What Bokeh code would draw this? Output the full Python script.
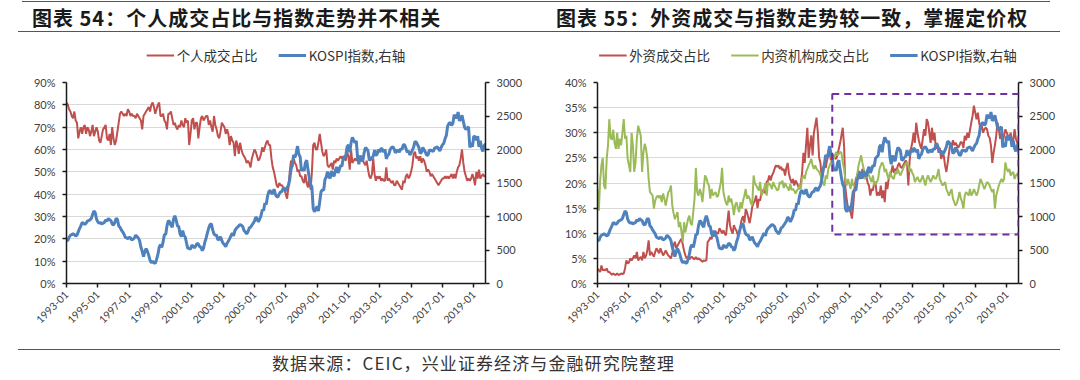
import pandas as pd
from bokeh.plotting import figure
from bokeh.models import Range1d, LinearAxis, FixedTicker, Legend, LegendItem, BoxAnnotation, Div
from bokeh.layouts import column, row
from bokeh.embed import file_html
from bokeh.resources import INLINE

# ---------------- data (monthly, 1993-01 .. 2019-10) ----------------
kospi = [
    650, 640, 690, 720, 730, 740, 730, 710, 720, 770, 820, 860,
    910, 900, 880, 900, 930, 940, 950, 970, 1030, 1080, 1060, 960,
    920, 900, 910, 890, 900, 910, 950, 930, 970, 950, 940, 890,
    870, 910, 970, 960, 860, 840, 800, 770, 740, 690, 680, 670,
    690, 680, 650, 660, 680, 720, 700, 680, 640, 540, 480, 400,
    480, 520, 480, 420, 350, 310, 330, 310, 300, 360, 430, 540,
    580, 540, 620, 730, 730, 860, 940, 920, 870, 840, 960, 1010,
    950, 860, 850, 740, 700, 790, 720, 690, 600, 520, 530, 510,
    570, 560, 530, 560, 600, 590, 550, 540, 490, 530, 620, 680,
    760, 830, 880, 890, 800, 740, 720, 720, 650, 660, 700, 640,
    600, 580, 550, 600, 630, 670, 710, 750, 710, 790, 820, 840,
    860, 880, 870, 850, 790, 770, 740, 770, 830, 840, 870, 900,
    930, 990, 970, 920, 960, 1010, 1100, 1090, 1200, 1180, 1300, 1370,
    1390, 1350, 1340, 1410, 1330, 1300, 1290, 1340, 1370, 1370, 1420, 1420,
    1380, 1430, 1460, 1550, 1700, 1780, 1920, 1880, 1950, 2050, 1930, 1890,
    1680, 1720, 1680, 1800, 1840, 1700, 1580, 1480, 1440, 1120, 1070, 1110,
    1150, 1080, 1220, 1370, 1400, 1390, 1550, 1590, 1670, 1590, 1570, 1680,
    1620, 1600, 1690, 1740, 1650, 1700, 1760, 1750, 1870, 1890, 1910, 2040,
    2070, 1960, 2100, 2180, 2140, 2100, 2130, 1880, 1780, 1910, 1850, 1830,
    1950, 2030, 2010, 1980, 1840, 1850, 1880, 1900, 1990, 1910, 1930, 2000,
    1960, 2020, 2000, 1960, 2000, 1860, 1910, 1930, 2000, 2030, 2040, 2010,
    1950, 1980, 1990, 1960, 2010, 2000, 2070, 2070, 2020, 1960, 1980, 1920,
    1950, 1990, 2040, 2120, 2110, 2070, 2030, 1940, 1960, 2030, 1990, 1960,
    1910, 1920, 1990, 1990, 1980, 1970, 2020, 2030, 2040, 2010, 1980, 2030,
    2070, 2090, 2160, 2210, 2350, 2390, 2400, 2360, 2390, 2520, 2480, 2470,
    2560, 2430, 2450, 2510, 2420, 2330, 2300, 2320, 2340, 2030, 2100, 2040,
    2200, 2190, 2140, 2200, 2040, 2130, 2020, 1970, 2060, 2080,
]

individual_share = [
    81, 80, 78, 77, 75, 74, 77, 73, 72, 65, 68, 70,
    67, 70, 71, 67, 70, 69, 66, 68, 71, 66, 68, 70,
    68, 64, 63, 66, 69, 70, 71, 65, 64, 67, 62, 70,
    65, 62, 64, 68, 72, 76, 77, 76, 75, 76, 75, 78,
    77, 75, 76, 75, 75, 74, 76, 75, 74, 73, 69, 75,
    76, 77, 78, 79, 77, 80, 81, 79, 76, 78, 80, 81,
    75, 75, 76, 73, 72, 69, 76, 76, 77, 74, 71, 72,
    70, 69, 71, 70, 73, 71, 70, 74, 72, 73, 62, 67,
    73, 74, 69, 72, 72, 65, 70, 74, 75, 73, 74, 75,
    75, 71, 73, 70, 68, 75, 71, 69, 66, 65, 68, 72,
    71, 70, 67, 69, 67, 62, 66, 64, 63, 57, 64, 62,
    58, 63, 60, 58, 57, 56, 54, 55, 54, 52, 56, 58,
    60, 59, 57, 55, 56, 58, 61, 59, 61, 63, 64, 62,
    62, 56, 52, 50, 47, 44, 43, 45, 44, 44, 43, 42,
    40, 38, 43, 50, 55, 52, 56, 54, 53, 50, 51, 48,
    48, 46, 45, 49, 45, 43, 47, 42, 50, 62, 63, 60,
    60, 63, 67, 63, 59, 57, 58, 60, 53, 52, 53, 54,
    51, 55, 54, 56, 55, 56, 57, 56, 57, 56, 55, 59,
    57, 51, 60, 54, 55, 56, 55, 57, 54, 56, 55, 55,
    54, 53, 55, 51, 48, 47, 49, 56, 49, 46, 48, 47,
    48, 46, 47, 46, 46, 52, 46, 47, 46, 45, 46, 44,
    44, 46, 45, 44, 43, 42, 46, 45, 48, 49, 47, 48,
    50, 53, 58, 59, 56, 57, 55, 57, 54, 56, 55, 53,
    50, 51, 50, 48, 49, 48, 47, 46, 45, 44, 45, 46,
    47, 47, 48, 47, 48, 47, 48, 49, 47, 49, 47, 50,
    52, 53, 56, 60, 54, 50, 48, 46, 47, 46, 47, 49,
    47, 44, 50, 47, 51, 47, 48, 49, 48, 48,
]

foreign_share = [
    3.0, 2.6, 2.3, 3.6, 2.6, 2.8, 2.6, 3.0, 2.3, 2.3, 2.0, 1.7,
    2.0, 1.8, 1.7, 2.0, 1.7, 1.8, 2.0, 1.9, 2.0, 3.0, 4.6, 4.0,
    4.2, 5.0, 4.6, 5.0, 5.6, 5.0, 6.3, 4.6, 5.0, 5.3, 4.6, 6.3,
    5.0, 5.5, 6.6, 8.6, 5.6, 6.3, 5.8, 5.3, 6.3, 7.0, 6.5, 6.0,
    7.0, 6.3, 5.6, 6.0, 6.6, 6.0, 5.6, 5.3, 5.0, 6.0, 7.6, 8.3,
    7.0, 7.5, 8.0, 8.5, 8.9, 7.8, 6.5, 5.6, 5.0, 5.3, 4.8, 5.2,
    5.3, 5.0, 4.8, 5.3, 4.8, 5.0, 4.8, 4.6, 4.3, 4.6, 4.5, 4.6,
    8.3, 8.6, 9.2, 8.8, 10.3, 9.8, 10.4, 9.9, 10.0, 11.0, 10.5, 10.0,
    10.6, 9.9, 9.6, 12.2, 14.5, 11.6, 10.6, 9.9, 11.6, 10.9, 10.5, 9.6,
    10.0, 11.5, 12.8, 13.4, 12.1, 14.8, 14.2, 13.1, 12.0, 13.5, 15.3, 16.0,
    16.5, 17.5, 15.0, 16.8, 16.5, 18.2, 18.5, 18.8, 17.9, 20.2, 20.5, 21.5,
    20.5, 21.5, 22.0, 22.8, 23.5, 23.2, 23.5, 22.8, 23.2, 22.5, 22.8, 21.5,
    23.0, 24.0, 21.8, 20.8, 20.0, 20.8, 19.5, 20.5, 20.0, 19.4, 18.8, 20.0,
    22.0, 26.0, 24.0, 27.5, 31.0, 25.0, 27.5, 29.5, 25.5, 30.0, 31.5, 33.0,
    30.0, 25.0, 24.0, 20.8, 22.0, 24.0, 23.0, 24.5, 25.5, 26.0, 24.5, 25.5,
    25.5, 25.0, 24.8, 25.6, 26.8, 28.0, 29.5, 31.0, 27.5, 19.0, 16.8, 14.9,
    14.5, 14.2, 12.9, 15.6, 19.0, 20.8, 21.5, 22.5, 20.8, 21.5, 22.8, 22.0,
    20.8, 21.5, 20.0, 19.5, 17.5, 18.8, 18.5, 20.2, 20.0, 17.5, 18.2, 17.5,
    19.5, 17.0, 18.5, 16.2, 20.2, 18.8, 20.8, 21.5, 22.2, 23.5, 22.0, 22.8,
    22.5, 23.5, 24.0, 23.2, 23.0, 23.5, 24.0, 24.5, 24.0, 19.5, 24.5, 26.8,
    28.0, 30.0, 28.0, 32.0, 30.0, 28.5, 27.5, 26.8, 28.8, 30.7, 29.4, 32.7,
    32.0, 30.0, 28.0, 31.0, 28.5, 30.0, 26.8, 28.0, 26.0, 27.0, 24.8, 25.5,
    25.5, 23.5, 22.2, 24.0, 26.0, 28.0, 27.0, 28.5, 27.5, 28.0, 27.5, 27.0,
    27.5, 28.2, 28.0, 27.0, 29.4, 28.5, 30.0, 29.0, 30.5, 32.0, 33.4, 35.4,
    34.0, 32.7, 34.0, 32.0, 30.7, 31.4, 30.0, 30.7, 31.0, 30.7, 29.4, 29.0,
    27.5, 24.0, 26.0, 27.5, 29.4, 32.0, 30.7, 28.8, 30.0, 28.1, 29.5, 30.7,
    30.0, 29.4, 28.8, 30.0, 28.1, 28.5, 30.7, 28.8, 28.0, 27.5,
]

institution_share = [
    18.8, 14.5, 20.4, 23.5, 25.0, 19.5, 18.8, 24.8, 27.5, 32.7, 29.0, 28.6,
    30.6, 28.0, 26.8, 30.0, 26.8, 28.8, 27.5, 30.0, 32.7, 28.8, 29.4, 24.8,
    23.5, 22.2, 30.0, 27.5, 22.2, 24.1, 28.8, 31.4, 30.5, 29.4, 22.2, 26.0,
    27.8, 26.8, 24.8, 20.8, 18.2, 17.9, 17.5, 14.9, 16.5, 17.2, 17.5, 17.0,
    17.5, 16.2, 17.9, 16.9, 15.5, 16.9, 18.2, 18.5, 19.5, 15.5, 14.0, 12.8,
    13.5, 14.2, 11.2, 12.2, 10.3, 8.3, 12.2, 10.2, 11.5, 12.8, 13.5, 12.0,
    11.6, 14.2, 16.9, 23.0, 18.2, 17.5, 18.8, 18.0, 16.2, 19.0, 21.5, 21.0,
    20.0, 19.5, 16.9, 18.8, 17.5, 17.9, 18.2, 17.2, 17.5, 18.8, 20.0, 23.0,
    18.2, 16.9, 16.0, 15.6, 17.5, 16.2, 16.9, 15.5, 13.6, 15.6, 16.2, 15.0,
    14.2, 16.2, 14.9, 16.5, 17.5, 18.8, 16.9, 17.5, 16.9, 16.0, 15.6, 21.5,
    20.0, 19.5, 19.0, 18.5, 20.2, 17.5, 18.0, 18.8, 20.0, 17.5, 20.2, 19.8,
    19.5, 18.8, 20.2, 19.5, 19.0, 18.5, 18.8, 20.2, 19.8, 20.5, 19.0, 20.0,
    19.4, 19.0, 18.5, 19.8, 18.6, 18.8, 18.5, 17.9, 18.5, 18.8, 19.5, 18.8,
    21.0, 21.5, 20.8, 22.2, 22.8, 23.5, 24.1, 24.8, 23.5, 22.8, 23.5, 22.8,
    22.5, 22.2, 21.5, 20.8, 20.0, 19.5, 21.5, 20.8, 22.8, 23.5, 24.1, 24.5,
    24.8, 25.5, 26.2, 25.5, 25.8, 26.2, 26.0, 24.1, 22.8, 20.8, 19.5, 20.8,
    19.8, 18.8, 20.8, 19.5, 19.5, 19.5, 21.5, 23.5, 24.5, 25.5, 24.0, 22.8,
    20.8, 21.5, 22.2, 21.5, 20.8, 20.2, 21.5, 19.5, 20.2, 20.2, 20.8, 22.8,
    23.5, 24.1, 23.5, 22.2, 22.8, 21.5, 20.8, 22.2, 21.5, 21.0, 20.8, 22.2,
    21.8, 22.8, 22.0, 21.5, 22.2, 22.8, 23.5, 23.8, 24.1, 23.5, 22.2, 22.8,
    22.0, 21.5, 20.2, 20.8, 21.2, 20.5, 20.2, 20.8, 21.5, 20.5, 19.5, 20.8,
    21.5, 20.8, 20.2, 20.8, 21.5, 21.0, 20.8, 21.5, 22.8, 20.8, 20.2, 19.5,
    19.8, 20.2, 18.8, 18.2, 17.5, 18.2, 18.8, 16.9, 16.2, 15.5, 16.0, 16.9,
    18.2, 17.0, 16.2, 14.9, 17.5, 18.2, 17.9, 17.5, 18.8, 17.5, 17.9, 18.8,
    18.2, 17.5, 18.2, 19.5, 20.8, 20.2, 19.5, 18.8, 19.5, 20.2, 20.0, 19.5,
    18.8, 18.2, 18.8, 14.9, 17.5, 18.5, 19.5, 20.2, 20.8, 20.2, 20.8, 24.1,
    22.8, 22.2, 22.8, 21.5, 22.0, 22.2, 20.8, 21.5, 21.8, 21.5,
]

left_pct_ticks = [0, 10, 20, 30, 40, 50, 60, 70, 80, 90]
right_pct_ticks = [0, 5, 10, 15, 20, 25, 30, 35, 40]
kospi_ticks = [0, 500, 1000, 1500, 2000, 2500, 3000]
highlight_start = "2007-12"
highlight_kospi_low, highlight_kospi_high = 730, 2830

title_left = "图表 54：个人成交占比与指数走势并不相关"
title_right = "图表 55：外资成交与指数走势较一致，掌握定价权"
source_text = "数据来源：CEIC，兴业证券经济与金融研究院整理"

# ---------------- helpers ----------------
n = len(kospi)
months = pd.date_range("1993-01-01", periods=n, freq="MS").strftime("%Y-%m").tolist()
xs = list(range(n))
xtick_idx = [i for i, m in enumerate(months) if m.endswith("-01") and int(m[:4]) % 2 == 1]

RED = "#C0504D"
BLUE = "#4F81BD"
GREEN = "#9BBB59"
PURPLE = "#7030A0"
TICK_FONT = "Lato"
CJK = "Noto Sans CJK SC"
FRAME_H = 201
TOP_B, BOT_B = 10, 62
LEG_H = 34


def style_axis(ax):
    ax.axis_line_color = "#1a1a1a"
    ax.axis_line_width = 1.5
    ax.major_tick_line_color = "#1a1a1a"
    ax.major_tick_line_width = 1.5
    ax.major_tick_out = 4
    ax.major_tick_in = 0
    ax.minor_tick_line_color = None
    ax.major_label_text_font = TICK_FONT
    ax.major_label_text_font_size = "11px"
    ax.major_label_text_color = "#404040"
    ax.major_label_standoff = 7


def make_fig(ymax, pct_ticks, mbl, mbr):
    p = figure(width=540, height=TOP_B + FRAME_H + BOT_B,
               min_border_left=mbl, min_border_right=mbr,
               min_border_top=TOP_B, min_border_bottom=BOT_B,
               x_range=Range1d(0, n - 1), y_range=Range1d(0, ymax),
               output_backend="svg", toolbar_location=None)
    p.extra_y_ranges = {"k": Range1d(0, 3000)}
    p.outline_line_color = None

    p.xaxis.ticker = FixedTicker(ticks=xtick_idx)
    p.xaxis.major_label_overrides = {i: months[i] for i in xtick_idx}
    p.xaxis.major_label_orientation = 0.785398
    p.yaxis.ticker = FixedTicker(ticks=pct_ticks)
    p.yaxis.major_label_overrides = {t: f"{t}%" for t in pct_ticks}
    style_axis(p.xaxis[0])
    style_axis(p.yaxis[0])
    p.xaxis.major_label_text_font_size = "10.5px"
    p.xaxis.major_label_standoff = 5

    rax = LinearAxis(y_range_name="k", ticker=FixedTicker(ticks=kospi_ticks))
    style_axis(rax)
    p.add_layout(rax, "right")

    p.xgrid.visible = False
    p.ygrid.ticker = FixedTicker(ticks=pct_ticks)
    p.ygrid.grid_line_color = "#D9D9D9"
    p.ygrid.grid_line_width = 1
    return p


def make_legend_fig(entries):
    """Strip above a chart that holds its legend; it plots the same series
    (outside its visible range) so the swatches come from real renderers."""
    q = figure(width=540, height=LEG_H, min_border=0,
               min_border_left=0, min_border_right=0, min_border_top=0, min_border_bottom=0,
               x_axis_type=None, y_axis_type=None,
               x_range=Range1d(0, n - 1), y_range=Range1d(-2, -1),
               output_backend="svg", toolbar_location=None)
    q.outline_line_color = None
    q.grid.visible = False
    items = []
    for label, series, color, width in entries:
        r = q.line(xs, series, line_color=color, line_width=width)
        items.append(LegendItem(label=label, renderers=[r]))
    lg = Legend(items=items, orientation="horizontal", location="center")
    lg.label_text_font = CJK
    lg.label_text_font_size = "13.5px"
    lg.label_text_color = "#333333"
    lg.glyph_width = 28
    lg.glyph_height = 16
    lg.label_standoff = 3
    lg.spacing = 20
    lg.padding = 0
    lg.margin = 0
    lg.border_line_color = None
    lg.background_fill_alpha = 0
    q.add_layout(lg)
    return q


# ---------------- left chart ----------------
pl = make_fig(90, left_pct_ticks, 66, 55)
pl.line(xs, individual_share, line_color=RED, line_width=2)
pl.line(xs, kospi, y_range_name="k", line_color=BLUE, line_width=3)
leg_l = make_legend_fig([("个人成交占比", individual_share, RED, 2),
                         ("KOSPI指数,右轴", kospi, BLUE, 3)])

# ---------------- right chart ----------------
pr = make_fig(40, right_pct_ticks, 57, 62)
pr.line(xs, foreign_share, line_color=RED, line_width=2)
pr.line(xs, institution_share, line_color=GREEN, line_width=2)
pr.line(xs, kospi, y_range_name="k", line_color=BLUE, line_width=3)
box = BoxAnnotation(left=months.index(highlight_start), right=n - 1,
                    bottom=highlight_kospi_low, top=highlight_kospi_high,
                    y_range_name="k", fill_alpha=0, line_color=PURPLE, line_alpha=1,
                    line_width=2, line_dash="7 5")
pr.add_layout(box)
leg_r = make_legend_fig([("外资成交占比", foreign_share, RED, 2),
                         ("内资机构成交占比", institution_share, GREEN, 2),
                         ("KOSPI指数,右轴", kospi, BLUE, 3)])

# ---------------- header / footer ----------------
title_style = ("position:absolute; top:6px; font-family:'Noto Sans CJK SC'; font-weight:bold;"
               "font-size:20px; line-height:24px; color:#1a1a1a; white-space:nowrap; letter-spacing:1px;")
header = Div(width=1080, height=38, margin=0, text=(
    '<div style="position:relative; width:1080px; height:38px;">'
    '<div style="position:absolute; left:22px; top:1px; width:1028px; border-top:1.5px solid #555;"></div>'
    '<div style="position:absolute; left:18px; top:31px; width:1042px; border-top:1.5px solid #555;"></div>'
    f'<div style="{title_style} left:32px;">{title_left}</div>'
    f'<div style="{title_style} left:556px;">{title_right}</div>'
    '</div>'))

footer = Div(width=1080, height=33, margin=0, text=(
    '<div style="position:relative; width:1080px; height:33px;">'
    '<div style="position:absolute; left:18px; top:4px; width:1042px; border-top:1.5px solid #555;"></div>'
    '<div style="position:absolute; left:272px; top:7px; font-family:\'Noto Sans CJK SC\';'
    'font-size:17px; line-height:22px; color:#333; white-space:nowrap; letter-spacing:1.1px;">'
    f'{source_text}</div>'
    '</div>'))

layout = column(header, row(column(leg_l, pl), column(leg_r, pr)), footer)
open("out.html", "w").write(file_html(layout, INLINE))
